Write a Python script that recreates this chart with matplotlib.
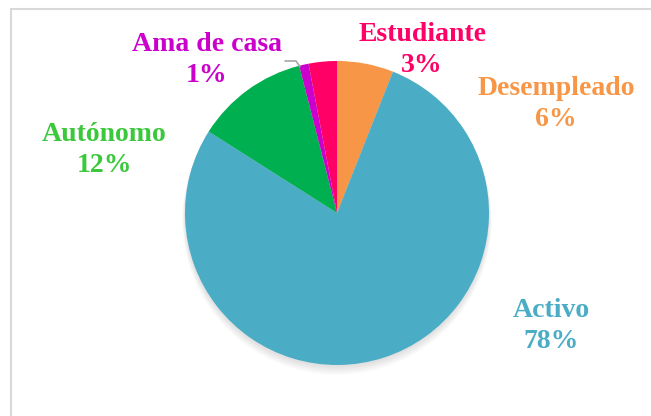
import matplotlib
matplotlib.use("Agg")
import matplotlib.pyplot as plt
from matplotlib.patches import Rectangle, Circle

# data, clockwise from the top
categories = ["Desempleado", "Activo", "Autónomo", "Ama de casa", "Estudiante"]
values = [6, 78, 12, 1, 3]
slice_colors = ["#F79646", "#4BACC6", "#00B050", "#CC00CC", "#FF0066"]
text_colors = ["#F79646", "#4BACC6", "#3CC83C", "#CC00CC", "#FF0066"]
label_pos = [(1.44, 0.715), (1.41, -0.745), (-1.53, 0.415), (-0.855, 1.005), (0.56, 1.075)]

W, H = 651, 416
fig = plt.figure(figsize=(W / 100, H / 100), dpi=100)

# chart frame (cut off right and bottom like the reference)
fig.patches.append(Rectangle((11 / W, -0.1), 1.1, (1 - 9 / H) + 0.1,
                             transform=fig.transFigure, fill=False,
                             edgecolor="#d9d9d9", linewidth=1.5))

cx, cy, r = 337, 213, 152
ax = fig.add_axes([(cx - r) / W, (H - cy - r) / H, 2 * r / W, 2 * r / H])

# soft shadow under the pie
for i in range(10):
    ax.add_patch(Circle((0, -0.012 - 0.004 * i), 1 + 0.002 * i, color="black",
                        alpha=0.012, zorder=0, clip_on=False, linewidth=0))

ax.pie(values, colors=slice_colors, startangle=90, counterclock=False,
       radius=1, wedgeprops=dict(linewidth=0))
ax.set_xlim(-1, 1)
ax.set_ylim(-1, 1)
ax.axis("off")

for name, v, col, (x, y) in zip(categories, values, text_colors, label_pos):
    ax.text(x, y, f"{name}\n{v}%", color=col, ha="center", va="center",
            fontsize=20, fontweight="bold", family="Liberation Serif",
            linespacing=1.32, clip_on=False)

# leader line for Ama de casa
ax.plot([-0.34, -0.27, -0.245], [1.0, 1.0, 0.965], color="#a6a6a6",
        linewidth=1.2, clip_on=False)

fig.savefig("out.png", dpi=100, facecolor="white")
